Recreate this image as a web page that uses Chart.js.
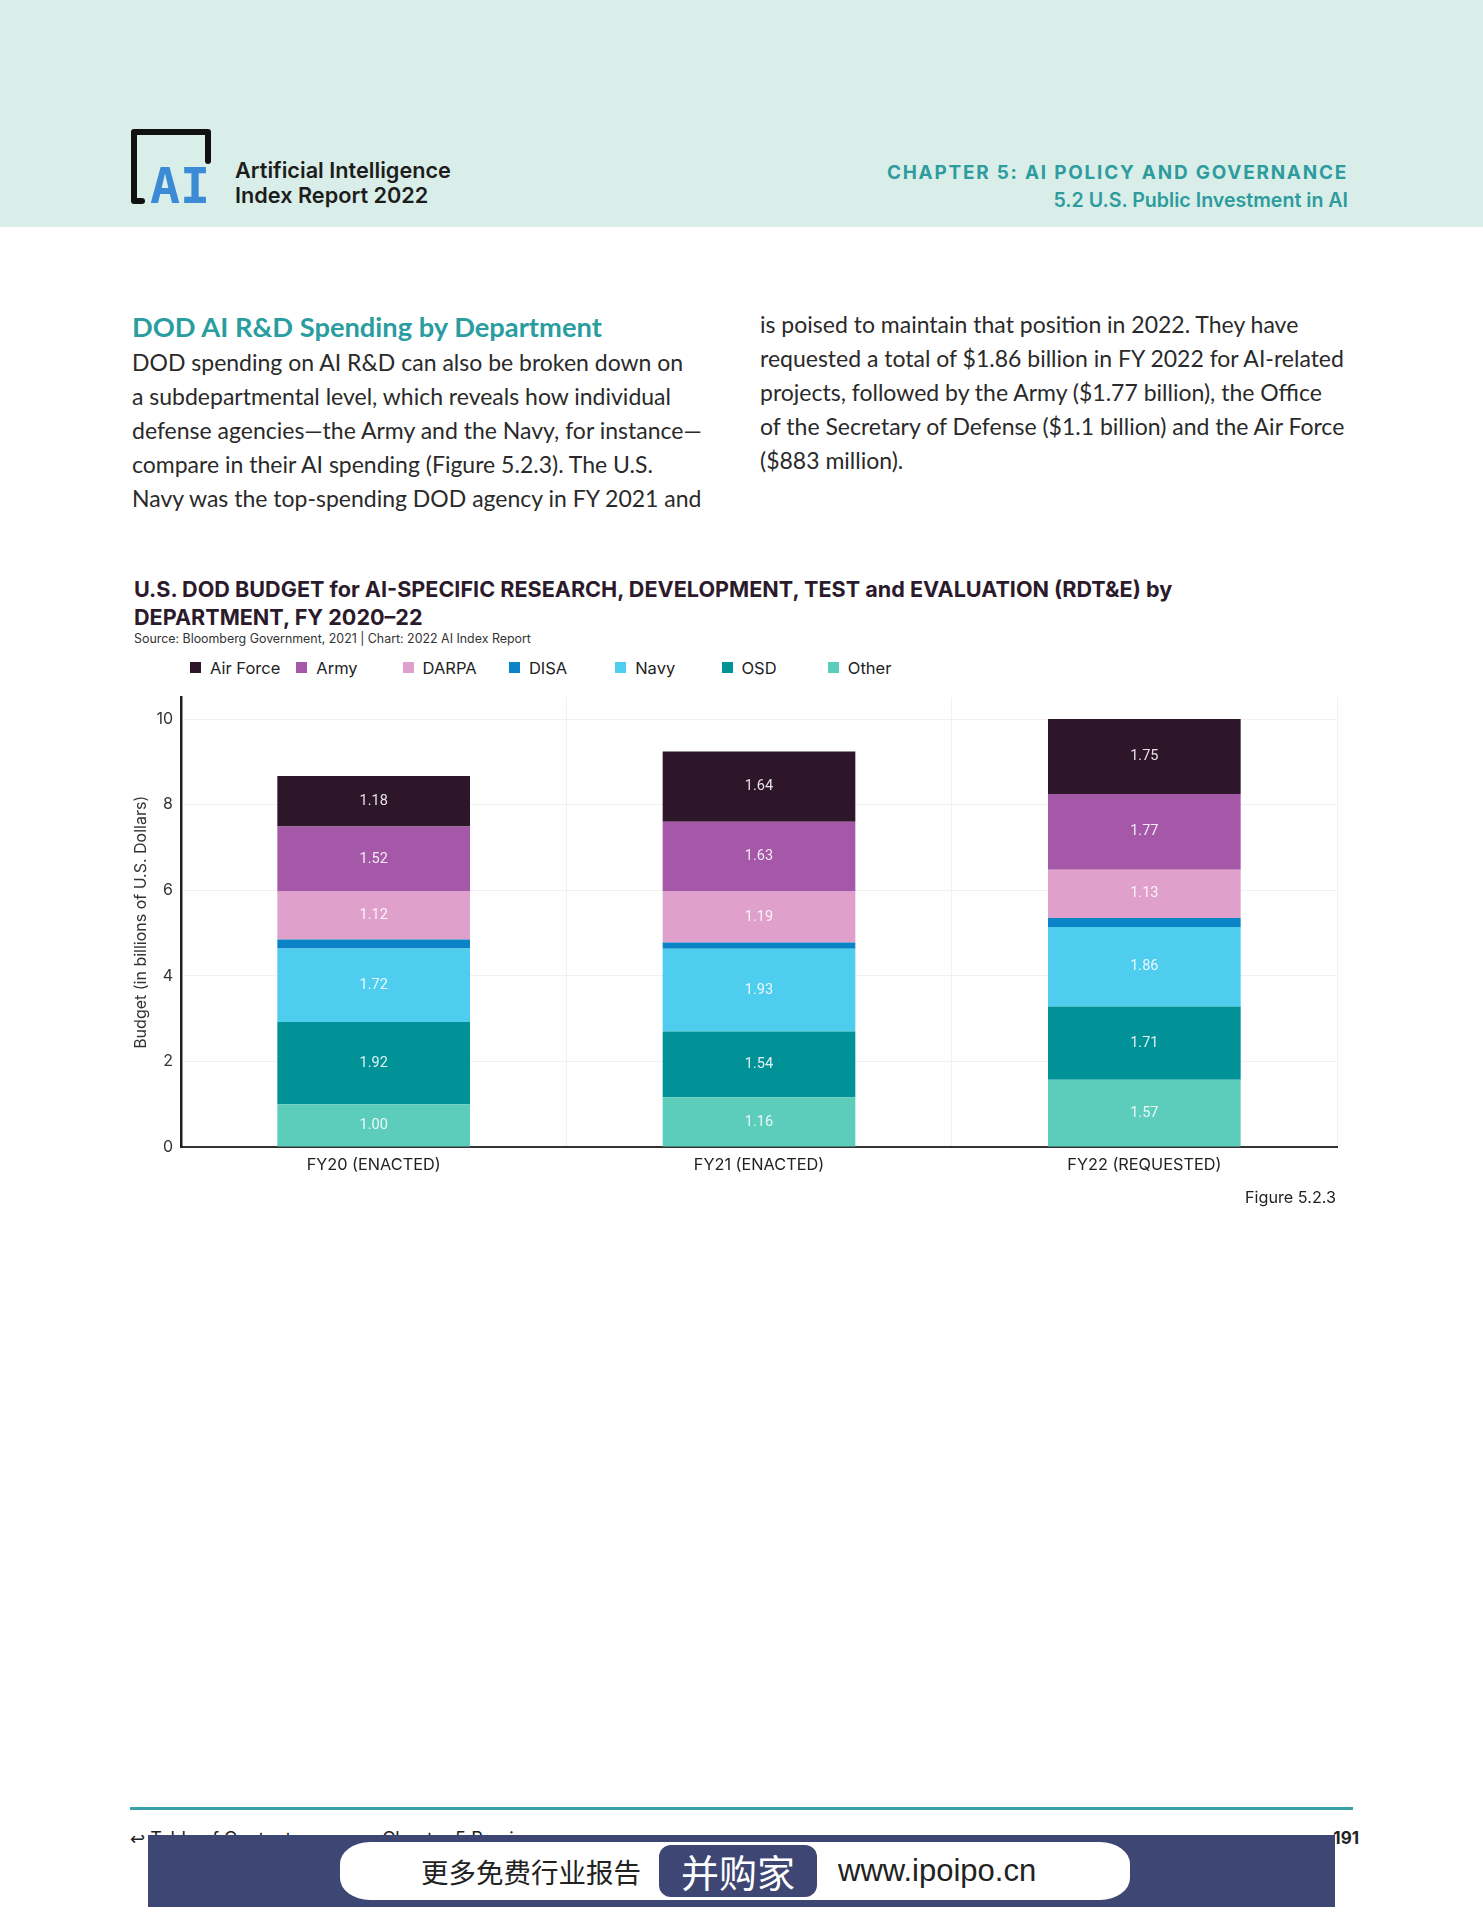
<!DOCTYPE html>
<html>
<head>
<meta charset="utf-8">
<script src="https://cdn.jsdelivr.net/npm/chart.js@4.4.1/dist/chart.umd.min.js"></script>
<style>
  body { margin: 0; width: 1483px; height: 1920px; position: relative; background: #fff; overflow: hidden; font-family: Inter, "Noto Sans", sans-serif; color: #222; }
  .abs { position: absolute; white-space: nowrap; }
  #header { left: 0; top: 0; width: 1483px; height: 227px; background: #d9eee8; }
  .brand { left: 235px; font-size: 21.7px; font-weight: 600; line-height: 24px; color: #1d1d1d; }
  .chap { right: 135px; text-align: right; color: #2e9c9f; }
  .para { font-family: Lato, "Open Sans", sans-serif; font-size: 23px; line-height: 34px; color: #2a2a2a; }
  #chartBox { left: 120px; top: 680px; width: 1240px; height: 510px; }
  .leg { position: absolute; top: 658px; font-size: 16.5px; line-height: 20px; color: #222; }
  .leg i { position: absolute; left: 0; top: 4px; width: 11px; height: 11px; }
  .leg span { position: absolute; left: 20px; white-space: nowrap; }
</style>
</head>
<body>
<div id="header" class="abs"></div>
<svg class="abs" style="left:130px;top:128px" width="84" height="78">
  <path d="M12 73 H4 V4 H78 V33" fill="none" stroke="#111" stroke-width="6" stroke-linejoin="round" stroke-linecap="round"/>
  <text x="20" y="75" font-family="DejaVu Sans Mono" font-weight="bold" font-size="50" fill="#3b8ad6">AI</text>
</svg>
<div class="abs brand" style="top:158px">Artificial Intelligence</div>
<div class="abs brand" style="top:183px">Index Report 2022</div>
<div class="abs chap" style="top:163px;font-size:18.9px;font-weight:700;letter-spacing:1.8px;line-height:20px">CHAPTER 5: AI POLICY AND GOVERNANCE</div>
<div class="abs chap" style="top:189px;font-size:19.6px;font-weight:600;line-height:22px">5.2 U.S. Public Investment in AI</div>

<div class="abs" style="left:132px;top:312px;font-family:Lato,sans-serif;font-size:27.3px;font-weight:700;line-height:30px;color:#2a9da0">DOD AI R&amp;D Spending by Department</div>
<div class="abs para" style="left:132px;top:345px">
DOD spending on AI R&amp;D can also be broken down on<br>
a subdepartmental level, which reveals how individual<br>
defense agencies—the Army and the Navy, for instance—<br>
compare in their AI spending (Figure 5.2.3). The U.S.<br>
Navy was the top-spending DOD agency in FY 2021 and</div>
<div class="abs para" style="left:760px;top:307px">
is poised to maintain that position in 2022. They have<br>
requested a total of $1.86 billion in FY 2022 for AI-related<br>
projects, followed by the Army ($1.77 billion), the Office<br>
of the Secretary of Defense ($1.1 billion) and the Air Force<br>
($883 million).</div>

<div class="abs" style="left:134px;top:575px;font-size:21.6px;font-weight:700;line-height:28px;color:#2b1a2b">U.S. DOD BUDGET for AI-SPECIFIC RESEARCH, DEVELOPMENT, TEST and EVALUATION (RDT&amp;E) by<br>DEPARTMENT, FY 2020–22</div>
<div class="abs" style="left:134px;top:632px;font-size:12.4px;line-height:14px;color:#333">Source: Bloomberg Government, 2021 | Chart: 2022 AI Index Report</div>
<div id="legend"></div>

<div id="chartBox" class="abs"><canvas id="chart"></canvas></div>
<div class="abs" style="right:147px;top:1188px;font-size:16.2px;line-height:18px;color:#222">Figure 5.2.3</div>

<div class="abs" style="left:130px;top:1807px;width:1223px;height:3px;background:#3aa0a8"></div>
<div class="abs" style="left:130px;top:1829px;font-size:18px;line-height:20px;color:#222"><span style="font-family:'DejaVu Sans'">↩</span> Table of Contents</div>
<div class="abs" style="left:362px;top:1829px;font-size:18px;line-height:20px;color:#222"><span style="font-family:'DejaVu Sans';color:#2a9da0">↩</span> Chapter 5 Preview</div>
<div class="abs" style="right:124px;top:1828px;font-size:17px;font-weight:700;line-height:20px;color:#222">191</div>
<div class="abs" style="left:148px;top:1835px;width:1187px;height:72px;background:#3e4673"></div>
<div class="abs" style="left:340px;top:1842px;width:790px;height:58px;background:#fff;border-radius:30px/22px"></div>
<div class="abs" style="left:421px;top:1853px;font-family:'Noto Sans CJK SC';font-size:27.5px;line-height:36px;color:#222">更多免费行业报告</div>
<div class="abs" style="left:659px;top:1845px;width:158px;height:52px;background:#3e4673;border-radius:12px"></div>
<div class="abs" style="left:659px;top:1845px;width:158px;text-align:center;font-family:'Noto Sans CJK SC';font-size:38px;line-height:52px;color:#fff">并购家</div>
<div class="abs" style="left:838px;top:1853px;font-family:'Liberation Sans';font-size:31px;line-height:36px;color:#222">www.ipoipo.cn</div>

<script>
const categories = ['FY20 (ENACTED)', 'FY21 (ENACTED)', 'FY22 (REQUESTED)'];
// billions of U.S. dollars, bottom of the stack first
const other = [1.00, 1.16, 1.57];
const osd = [1.92, 1.54, 1.71];
const navy = [1.72, 1.93, 1.86];
const disa = [0.21, 0.15, 0.21];
const darpa = [1.12, 1.19, 1.13];
const army = [1.52, 1.63, 1.77];
const airForce = [1.18, 1.64, 1.75];
const yTicks = [0, 2, 4, 6, 8, 10];
const yMax = 10.5;

const datasets = [
  { label: 'Other', data: other, backgroundColor: '#5dcdbb' },
  { label: 'OSD', data: osd, backgroundColor: '#009297' },
  { label: 'Navy', data: navy, backgroundColor: '#4fcdee' },
  { label: 'DISA', data: disa, backgroundColor: '#0b83c7', showValue: false },
  { label: 'DARPA', data: darpa, backgroundColor: '#e0a0cc' },
  { label: 'Army', data: army, backgroundColor: '#a557a8' },
  { label: 'Air Force', data: airForce, backgroundColor: '#2d1629' }
];

// values written in the middle of each segment
const segmentLabels = {
  id: 'segmentLabels',
  afterDatasetsDraw(chart) {
    const ctx = chart.ctx;
    ctx.save();
    ctx.font = '14.5px Roboto, sans-serif';
    ctx.textAlign = 'center';
    ctx.textBaseline = 'middle';
    ctx.fillStyle = 'rgba(255,255,255,0.88)';
    chart.data.datasets.forEach((ds, i) => {
      if (ds.showValue === false) return;
      chart.getDatasetMeta(i).data.forEach((bar, j) => {
        ctx.fillText(ds.data[j].toFixed(2), bar.x, (bar.y + bar.base) / 2);
      });
    });
    ctx.restore();
  }
};

new Chart(document.getElementById('chart'), {
  type: 'bar',
  data: {
    labels: categories,
    datasets: datasets.map(d => Object.assign({ barPercentage: 0.5, categoryPercentage: 1.0, borderWidth: 0 }, d))
  },
  options: {
    responsive: true,
    maintainAspectRatio: false,
    animation: false,
    layout: { padding: { top: 5, right: 23, left: 0, bottom: 0 } },
    plugins: { legend: { display: false }, tooltip: { enabled: false } },
    scales: {
      x: {
        stacked: true,
        grid: { color: '#f3f0f0', drawTicks: false, offset: true },
        border: { color: '#333', width: 2 },
        ticks: { padding: 8, color: '#222', font: { family: 'Inter', size: 16.3 } },
        afterFit: s => { s.height = 43; }
      },
      y: {
        stacked: true,
        min: 0,
        max: yMax,
        afterBuildTicks: s => { s.ticks = yTicks.map(v => ({ value: v })); },
        afterFit: s => { s.width = 61; },
        grid: { color: '#f3f0f0', drawTicks: false },
        border: { color: '#231f20', width: 2.5 },
        ticks: { padding: 8, color: '#333', font: { family: 'Inter', size: 16 } },
        title: {
          display: true,
          text: 'Budget (in billions of U.S. Dollars)',
          color: '#333',
          font: { family: 'Inter', size: 16 },
          padding: { top: 12, bottom: 0 }
        }
      }
    }
  },
  plugins: [segmentLabels]
});

// legend, same order as the original (alphabetical)
const legendEl = document.getElementById('legend');
datasets.slice().reverse().forEach((ds, i) => {
  const item = document.createElement('div');
  item.className = 'leg';
  item.style.left = (190 + i * 106.3) + 'px';
  item.innerHTML = '<i style="background:' + ds.backgroundColor + '"></i><span>' + ds.label + '</span>';
  legendEl.appendChild(item);
});
</script>
</body>
</html>
